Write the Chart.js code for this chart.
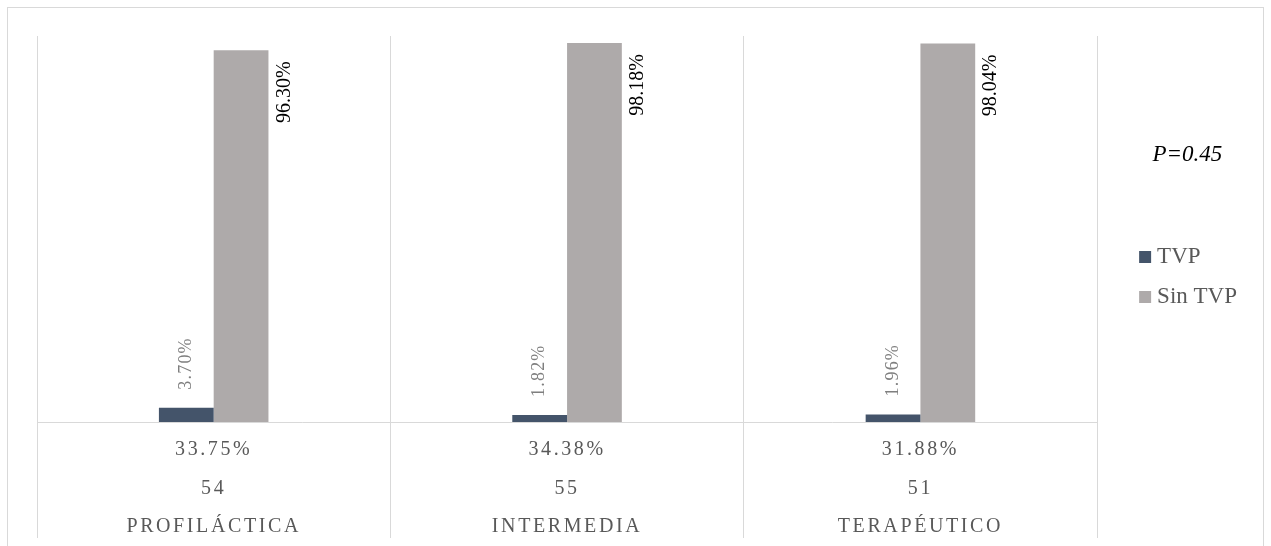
<!DOCTYPE html>
<html>
<head>
<meta charset="utf-8">
<script src="https://cdn.jsdelivr.net/npm/chart.js@4/dist/chart.umd.min.js"></script>
<style>
  html, body { margin: 0; padding: 0; background: #fff; overflow: hidden; }
  .wrap { position: relative; width: 1271px; height: 546px; }
  .frame { position: absolute; left: 7px; top: 7px; width: 1257px; height: 600px; border: 1px solid #d9d9d9; box-sizing: border-box; pointer-events: none; }
</style>
</head>
<body>
<div class="wrap">
  <canvas id="chart"></canvas>
  <div class="frame"></div>
</div>
<script>
// datos
const categories = ['PROFILÁCTICA', 'INTERMEDIA', 'TERAPÉUTICO'];
const groupShare = ['33.75%', '34.38%', '31.88%'];
const groupN = [54, 55, 51];
const tvp = [3.70, 1.82, 1.96];
const sinTvp = [96.30, 98.18, 98.04];
const pValue = 'P=0.45';

const serif = "'Liberation Serif', 'Times New Roman', serif";
Chart.defaults.font.family = serif;

// eje de categorias con espaciado entre letras
class SpacedCategory extends Chart.CategoryScale {
  drawLabels(area) {
    const ctx = this.ctx;
    ctx.save();
    ctx.letterSpacing = '2.6px';
    super.drawLabels(area);
    ctx.restore();
  }
}
SpacedCategory.id = 'spacedCategory';
SpacedCategory.defaults = Chart.CategoryScale.defaults;
Chart.register(SpacedCategory);

// etiquetas giradas sobre las barras
const barLabels = {
  id: 'barLabels',
  afterDatasetsDraw(chart) {
    const ctx = chart.ctx;
    chart.data.datasets.forEach((ds, i) => {
      chart.getDatasetMeta(i).data.forEach((bar, j) => {
        const txt = ds.data[j].toFixed(2) + '%';
        ctx.save();
        ctx.textBaseline = 'middle';
        if (i === 0) {
          ctx.font = '18px ' + serif;
          ctx.fillStyle = '#7f7f7f';
          ctx.letterSpacing = '1.2px';
          ctx.translate(bar.x, bar.y - 18);
          ctx.rotate(-Math.PI / 2);
          ctx.textAlign = 'left';
        } else {
          ctx.font = '20px ' + serif;
          ctx.fillStyle = '#000';
          ctx.translate(bar.x + bar.width / 2 + 16, bar.y + 11);
          ctx.rotate(-Math.PI / 2);
          ctx.textAlign = 'right';
        }
        ctx.fillText(txt, 0, 0);
        ctx.restore();
      });
    });
  }
};

const labels = categories.map((c, i) => [groupShare[i], String(groupN[i]), c]);

new Chart(document.getElementById('chart'), {
  type: 'bar',
  data: {
    labels: labels,
    datasets: [
      { label: 'TVP', data: tvp, backgroundColor: '#44546a', borderWidth: 0 },
      { label: 'Sin TVP', data: sinTvp, backgroundColor: '#aeaaaa', borderWidth: 0 }
    ]
  },
  options: {
    responsive: true,
    maintainAspectRatio: false,
    animation: false,
    categoryPercentage: 0.31,
    barPercentage: 1.0,
    layout: { padding: { left: 37, top: 36, right: 24, bottom: 0 } },
    plugins: {
      tooltip: { enabled: false },
      legend: {
        position: 'right',
        fullSize: false,
        align: 'center',
        labels: {
          usePointStyle: true,
          pointStyle: 'rect',
          boxWidth: 1,
          boxHeight: 12,
          padding: 17,
          color: '#595959',
          font: { size: 23 }
        },
        title: {
          display: true,
          text: pValue,
          color: '#000',
          font: { size: 23, style: 'italic' },
          padding: { top: 10.7, bottom: 57.7 }
        }
      }
    },
    scales: {
      x: {
        type: 'spacedCategory',
        offset: true,
        grid: { offset: true, color: '#d9d9d9', lineWidth: 1, tickLength: 116, drawTicks: true },
        border: { display: true, color: '#d9d9d9', width: 1 },
        ticks: {
          color: '#595959',
          font: { size: 20, lineHeight: '38.5px' },
          padding: -107.5,
          maxRotation: 0,
          autoSkip: false
        },
        afterFit(scale) { scale.height = 124; }
      },
      y: {
        position: 'right',
        min: 0,
        max: 100,
        ticks: { display: false },
        grid: { display: false },
        border: { display: false },
        afterFit(scale) { scale.width = 30.5; }
      }
    }
  },
  plugins: [barLabels]
});
</script>
</body>
</html>
